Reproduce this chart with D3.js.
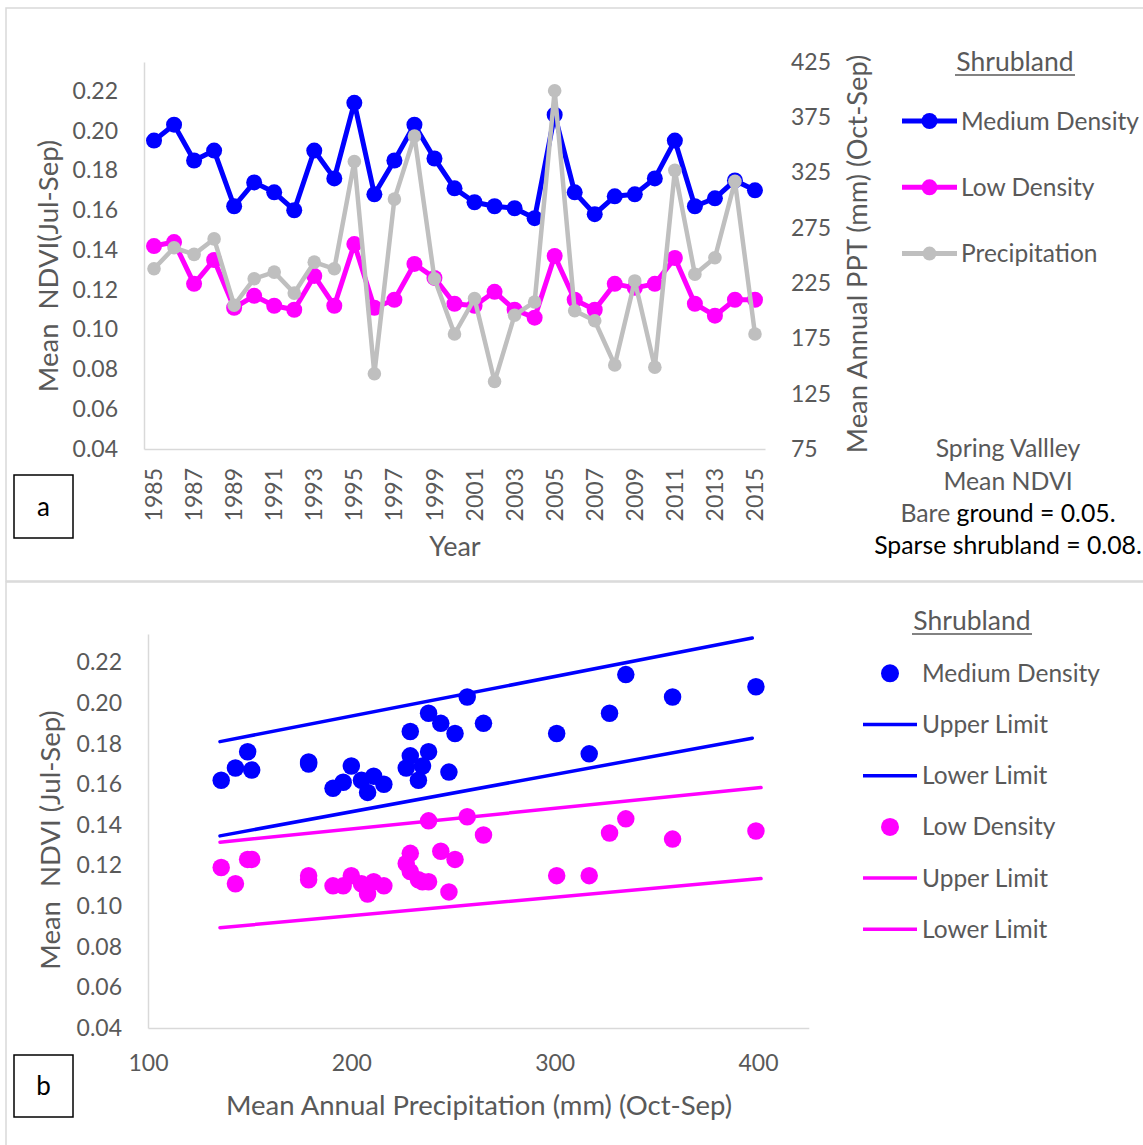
<!DOCTYPE html>
<meta charset="utf-8">
<style>
  body { margin: 0; background: #fff; }
  text { font-family: Lato, "Open Sans", sans-serif; fill: #595959; white-space: pre; }
</style>
<svg width="1143" height="1145"></svg>
<script src="https://d3js.org/d3.v7.min.js"></script>
<script>

// ---- data ----
var years = [1985, 1986, 1987, 1988, 1989, 1990, 1991, 1992, 1993, 1994, 1995,
             1996, 1997, 1998, 1999, 2000, 2001, 2002, 2003, 2004, 2005,
             2006, 2007, 2008, 2009, 2010, 2011, 2012, 2013, 2014, 2015];

var mediumNdvi = [0.195, 0.203, 0.185, 0.190, 0.162, 0.174, 0.169, 0.160, 0.190, 0.176, 0.214,
                  0.168, 0.185, 0.203, 0.186, 0.171, 0.164, 0.162, 0.161, 0.156, 0.208,
                  0.169, 0.158, 0.167, 0.168, 0.176, 0.195, 0.162, 0.166, 0.175, 0.170];

var lowNdvi = [0.142, 0.144, 0.123, 0.135, 0.111, 0.117, 0.112, 0.110, 0.127, 0.112, 0.143,
               0.111, 0.115, 0.133, 0.126, 0.113, 0.112, 0.119, 0.110, 0.106, 0.137,
               0.115, 0.110, 0.123, 0.121, 0.123, 0.136, 0.113, 0.107, 0.115, 0.115];

var precip = [238, 257, 251, 265, 205, 229, 235, 216, 244, 238, 335,
              143, 301, 358, 229, 179, 211, 136, 196, 208, 399,
              200, 191, 151, 227, 149, 327, 233, 248, 317, 179];

// limit lines of panel b, as [precip, ndvi] end points
var mediumUpper = [[135.4, 0.181], [397.2, 0.232]];
var mediumLower = [[135.4, 0.1346], [397.2, 0.1827]];
var lowUpper = [[135.4, 0.1315], [401.5, 0.1584]];
var lowLower = [[135.4, 0.0894], [401.5, 0.1136]];

var ndviTicks = [0.04, 0.06, 0.08, 0.10, 0.12, 0.14, 0.16, 0.18, 0.20, 0.22];
var pptTicks = [75, 125, 175, 225, 275, 325, 375, 425];
var precipTicks = [100, 200, 300, 400];
var yearTicks = years.filter(function(d, i) { return i % 2 === 0; });

var BLUE = "#0000ff", PINK = "#ff00ff", GREY = "#bfbfbf", AXIS = "#d9d9d9";

var svg = d3.select("svg");

// panel frames
svg.append("rect").attr("x", 6).attr("y", 8).attr("width", 1160).attr("height", 573)
    .attr("fill", "none").attr("stroke", AXIS).attr("stroke-width", 1.5);
svg.append("rect").attr("x", 6).attr("y", 582).attr("width", 1160).attr("height", 600)
    .attr("fill", "none").attr("stroke", AXIS).attr("stroke-width", 1.5);

function styleAxis(g) {
  g.select(".domain").attr("stroke", AXIS).attr("stroke-width", 1.5);
  g.selectAll("text").attr("fill", "#595959").attr("font-size", 23)
      .attr("font-family", "Lato, 'Open Sans', sans-serif");
}

// ================= panel a =================
var x = d3.scaleBand().domain(years).range([144, 765]);
var yL = d3.scaleLinear().domain([0.04, 0.2345]).range([449, 62]);
var yR = d3.scaleLinear().domain([75, 425]).range([449, 62]);
var cx = function(d, i) { return x(years[i]) + x.bandwidth() / 2; };

svg.append("g")
    .attr("transform", "translate(144,0)")
    .call(d3.axisLeft(yL).tickValues(ndviTicks).tickFormat(d3.format(".2f"))
      .tickSize(0).tickPadding(26))
    .call(styleAxis);

svg.append("g")
    .attr("transform", "translate(765,0)")
    .call(d3.axisRight(yR).tickValues(pptTicks).tickSize(0).tickPadding(26))
    .call(styleAxis)
    .select(".domain").remove();

var xa = svg.append("g")
    .attr("transform", "translate(0,449)")
    .call(d3.axisBottom(x).tickValues(yearTicks).tickSize(0).tickSizeOuter(0))
    .call(styleAxis);
xa.selectAll("text")
    .attr("transform", "rotate(-90)")
    .attr("x", -19).attr("y", 0).attr("dy", "0.35em")
    .attr("text-anchor", "end");

function series(values, scale, color, width, r) {
  var line = d3.line().x(cx).y(function(d) { return scale(d); });
  svg.append("path")
      .datum(values)
      .attr("fill", "none")
      .attr("stroke", color)
      .attr("stroke-width", width)
      .attr("stroke-linejoin", "round")
      .attr("d", line);
  svg.append("g").selectAll("circle")
    .data(values)
    .enter().append("circle")
      .attr("cx", cx)
      .attr("cy", function(d) { return scale(d); })
      .attr("r", r)
      .attr("fill", color);
}

series(mediumNdvi, yL, BLUE, 5, 8);
series(lowNdvi, yL, PINK, 5, 8);
series(precip, yR, GREY, 4.5, 6.8);

svg.append("text")
    .attr("transform", "translate(48,266) rotate(-90)")
    .attr("text-anchor", "middle").attr("dy", "0.35em")
    .attr("font-size", 27.5)
    .text("Mean  NDVI(Jul-Sep)");

svg.append("text")
    .attr("transform", "translate(857,254) rotate(-90)")
    .attr("text-anchor", "middle").attr("dy", "0.35em")
    .attr("font-size", 27.3)
    .text("Mean Annual PPT (mm) (Oct-Sep)");

svg.append("text")
    .attr("x", 455).attr("y", 547).attr("dy", "0.35em")
    .attr("text-anchor", "middle").attr("font-size", 27)
    .text("Year");

// legend a
svg.append("text")
    .attr("x", 1015).attr("y", 71).attr("text-anchor", "middle")
    .attr("font-size", 26.5).text("Shrubland");
svg.append("line").attr("x1", 955).attr("x2", 1075).attr("y1", 75).attr("y2", 75)
    .attr("stroke", "#595959").attr("stroke-width", 1.5);

var legA = [
  {name: "Medium Density", color: BLUE, r: 8, w: 5},
  {name: "Low Density", color: PINK, r: 8, w: 5},
  {name: "Precipitation", color: GREY, r: 7, w: 5}
];
var la = svg.append("g").selectAll("g")
  .data(legA)
  .enter().append("g")
    .attr("transform", function(d, i) { return "translate(0," + (121 + i * 66.3) + ")"; });
la.append("line").attr("x1", 902).attr("x2", 957)
    .attr("stroke", function(d) { return d.color; })
    .attr("stroke-width", function(d) { return d.w; });
la.append("circle").attr("cx", 929.5).attr("r", function(d) { return d.r; })
    .attr("fill", function(d) { return d.color; });
la.append("text").attr("x", 961).attr("dy", "0.35em").attr("font-size", 24.5)
    .text(function(d) { return d.name; });

// notes
var notes = svg.append("g").attr("font-size", 24.8).attr("text-anchor", "middle");
notes.append("text").attr("x", 1008).attr("y", 448).attr("dy", "0.35em").text("Spring Vallley");
notes.append("text").attr("x", 1008).attr("y", 481).attr("dy", "0.35em").text("Mean NDVI");
var bare = notes.append("text").attr("x", 1008).attr("y", 513).attr("dy", "0.35em");
bare.append("tspan").text("Bare ");
bare.append("tspan").style("fill", "#000").text("ground = 0.05.");
notes.append("text").attr("x", 1008).attr("y", 545).attr("dy", "0.35em")
    .style("fill", "#000").text("Sparse shrubland = 0.08.");

// panel label a
svg.append("rect").attr("x", 14).attr("y", 475).attr("width", 59).attr("height", 63)
    .attr("fill", "none").attr("stroke", "#000").attr("stroke-width", 1.5);
svg.append("text").attr("x", 43.5).attr("y", 506.5).attr("dy", "0.35em")
    .attr("text-anchor", "middle").attr("font-size", 26).style("fill", "#000").text("a");

// ================= panel b =================
var xb = d3.scaleLinear().domain([100, 425]).range([148, 808.8]);
var yb = d3.scaleLinear().domain([0.04, 0.234]).range([1028, 634]);

svg.append("g")
    .attr("transform", "translate(148,0)")
    .call(d3.axisLeft(yb).tickValues(ndviTicks).tickFormat(d3.format(".2f"))
      .tickSize(0).tickPadding(26))
    .call(styleAxis);

var xba = svg.append("g")
    .attr("transform", "translate(0,1028)")
    .call(d3.axisBottom(xb).tickValues(precipTicks).tickSize(0).tickSizeOuter(0))
    .call(styleAxis);
xba.selectAll("text").attr("y", 35).attr("dy", "0.35em");

var limLine = d3.line()
    .x(function(d) { return xb(d[0]); })
    .y(function(d) { return yb(d[1]); });

function limit(pts, color) {
  svg.append("path").datum(pts)
      .attr("fill", "none").attr("stroke", color).attr("stroke-width", 3.5)
      .attr("stroke-linecap", "round")
      .attr("d", limLine);
}

function dots(values, color) {
  svg.append("g").selectAll("circle")
    .data(values)
    .enter().append("circle")
      .attr("cx", function(d, i) { return xb(precip[i]); })
      .attr("cy", function(d) { return yb(d); })
      .attr("r", 8.75)
      .attr("fill", color);
}

dots(mediumNdvi, BLUE);
limit(mediumUpper, BLUE);
limit(mediumLower, BLUE);
dots(lowNdvi, PINK);
limit(lowUpper, PINK);
limit(lowLower, PINK);

svg.append("text")
    .attr("transform", "translate(50,840) rotate(-90)")
    .attr("text-anchor", "middle").attr("dy", "0.35em")
    .attr("font-size", 27.5)
    .text("Mean  NDVI (Jul-Sep)");

svg.append("text")
    .attr("x", 479).attr("y", 1105).attr("dy", "0.35em")
    .attr("text-anchor", "middle").attr("font-size", 27.5)
    .text("Mean Annual Precipitation (mm) (Oct-Sep)");

// legend b
svg.append("text")
    .attr("x", 972).attr("y", 630).attr("text-anchor", "middle")
    .attr("font-size", 26.5).text("Shrubland");
svg.append("line").attr("x1", 912).attr("x2", 1032).attr("y1", 634).attr("y2", 634)
    .attr("stroke", "#595959").attr("stroke-width", 1.5);

var legB = [
  {name: "Medium Density", color: BLUE, dot: true},
  {name: "Upper Limit", color: BLUE},
  {name: "Lower Limit", color: BLUE},
  {name: "Low Density", color: PINK, dot: true},
  {name: "Upper Limit", color: PINK},
  {name: "Lower Limit", color: PINK}
];
var lb = svg.append("g").selectAll("g")
  .data(legB)
  .enter().append("g")
    .attr("transform", function(d, i) { return "translate(0," + (673.3 + i * 51.2) + ")"; });
lb.filter(function(d) { return d.dot; }).append("circle")
    .attr("cx", 890).attr("r", 9).attr("fill", function(d) { return d.color; });
lb.filter(function(d) { return !d.dot; }).append("line")
    .attr("x1", 863).attr("x2", 917)
    .attr("stroke", function(d) { return d.color; }).attr("stroke-width", 3.5);
lb.append("text").attr("x", 922).attr("dy", "0.35em").attr("font-size", 24.5)
    .text(function(d) { return d.name; });

// panel label b
svg.append("rect").attr("x", 14).attr("y", 1055).attr("width", 59).attr("height", 62)
    .attr("fill", "none").attr("stroke", "#000").attr("stroke-width", 1.5);
svg.append("text").attr("x", 43.5).attr("y", 1086).attr("dy", "0.35em")
    .attr("text-anchor", "middle").attr("font-size", 26).style("fill", "#000").text("b");

</script>
